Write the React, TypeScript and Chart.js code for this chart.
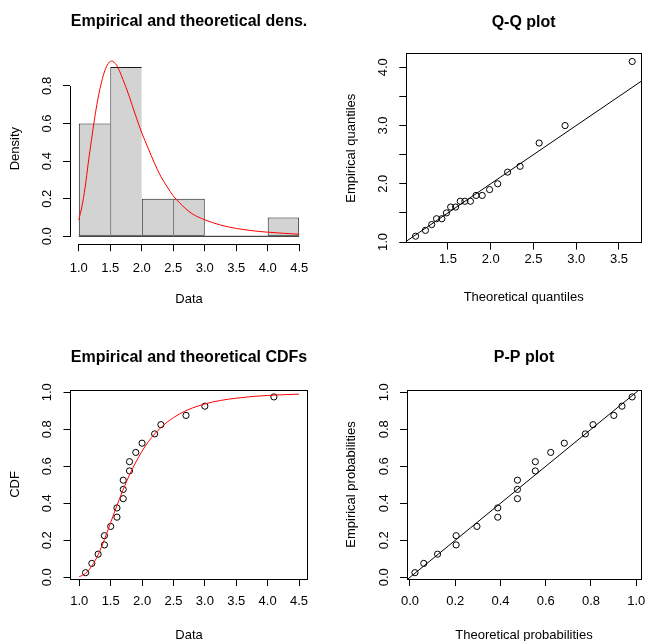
import React, { useEffect, useRef } from 'react';
import { Chart, registerables } from 'chart.js';

Chart.register(...registerables);

// ---------------- data ----------------
const histBreaks = [1.0, 1.5, 2.0, 2.5, 3.0, 3.5, 4.0, 4.5];
const histDensity = [0.6, 0.9, 0.2, 0.2, 0, 0, 0.1];

const sampleData = [1.1, 1.2, 1.3, 1.4, 1.4, 1.5, 1.6, 1.6, 1.7, 1.7, 1.7, 1.8, 1.8, 1.9, 2.0, 2.2, 2.3, 2.7, 3.0, 4.1];
const empiricalProbs = [0.025, 0.075, 0.125, 0.175, 0.225, 0.275, 0.325, 0.375, 0.425, 0.475, 0.525, 0.575, 0.625, 0.675, 0.725, 0.775, 0.825, 0.875, 0.925, 0.975];
const theoreticalQuantiles = [1.122, 1.237, 1.31, 1.367, 1.429, 1.483, 1.532, 1.59, 1.644, 1.698, 1.763, 1.829, 1.901, 1.987, 2.082, 2.198, 2.344, 2.567, 2.87, 3.655];
const theoreticalProbs = [0.022, 0.061, 0.122, 0.204, 0.204, 0.296, 0.388, 0.388, 0.475, 0.475, 0.475, 0.554, 0.554, 0.622, 0.682, 0.775, 0.809, 0.901, 0.937, 0.982];

const densX = [1.0, 1.05, 1.1, 1.15, 1.2, 1.25, 1.3, 1.35, 1.4, 1.45, 1.52, 1.6, 1.7, 1.8, 1.9, 2.0, 2.1, 2.2, 2.3, 2.4, 2.5, 2.6, 2.7, 2.8, 3.0, 3.25, 3.5, 3.75, 4.0, 4.25, 4.5];
const densY = [0.087, 0.16, 0.26, 0.39, 0.51, 0.625, 0.725, 0.805, 0.868, 0.91, 0.932, 0.91, 0.835, 0.745, 0.645, 0.55, 0.47, 0.39, 0.32, 0.265, 0.215, 0.178, 0.146, 0.12, 0.088, 0.06, 0.042, 0.03, 0.022, 0.016, 0.011];

const cdfX = [1.0, 1.05, 1.1, 1.15, 1.2, 1.25, 1.3, 1.35, 1.4, 1.45, 1.5, 1.6, 1.7, 1.8, 1.9, 2.0, 2.1, 2.2, 2.3, 2.4, 2.5, 2.6, 2.7, 2.8, 3.0, 3.25, 3.5, 3.75, 4.0, 4.25, 4.5];
const cdfY = [0.004, 0.01, 0.021, 0.038, 0.061, 0.089, 0.122, 0.161, 0.204, 0.249, 0.296, 0.388, 0.475, 0.554, 0.622, 0.682, 0.733, 0.775, 0.809, 0.839, 0.863, 0.884, 0.901, 0.915, 0.937, 0.956, 0.968, 0.977, 0.983, 0.987, 0.99];

const titles = ['Empirical and theoretical dens.', 'Q-Q plot', 'Empirical and theoretical CDFs', 'P-P plot'];
const xTitles = ['Data', 'Theoretical quantiles', 'Data', 'Theoretical probabilities'];
const yTitles = ['Density', 'Empirical quantiles', 'CDF', 'Empirical probabilities'];

// ---------------- styling ----------------
const FONT = '"Liberation Sans", Arial, Helvetica, sans-serif';
const INK = '#000000';
const RED = '#FF0000';

const rFrame = {
  id: 'rFrame',
  afterDatasetsDraw(chart: any, _args: any, opts: any) {
    const { ctx, chartArea: a, scales } = chart;
    ctx.save();
    ctx.strokeStyle = INK;
    ctx.lineWidth = 1;
    const px = (v: number) => Math.floor(v) + 0.5;
    if (opts.mode === 'box') {
      ctx.strokeRect(px(a.left), px(a.top), Math.floor(a.right) - Math.floor(a.left), Math.floor(a.bottom) - Math.floor(a.top));
    } else if (opts.mode === 'axes') {
      const xs = scales.x, ys = scales.y;
      const xt = xs.ticks, yt = ys.ticks;
      ctx.beginPath();
      ctx.moveTo(Math.round(xs.getPixelForValue(xt[0].value)), px(a.bottom));
      ctx.lineTo(Math.round(xs.getPixelForValue(xt[xt.length - 1].value)) + 1, px(a.bottom));
      ctx.moveTo(px(a.left), Math.round(ys.getPixelForValue(yt[0].value)) + 1);
      ctx.lineTo(px(a.left), Math.round(ys.getPixelForValue(yt[yt.length - 1].value)));
      ctx.stroke();
    }
    ctx.restore();
  },
};

const rTitleCenter = {
  id: 'rTitleCenter',
  afterLayout(chart: any) {
    const tb = chart.titleBlock;
    if (tb) {
      tb.left = chart.chartArea.left;
      tb.right = chart.chartArea.right;
    }
  },
};

type Geo = {
  W: number; H: number;
  area: { l: number; r: number; t: number; b: number };
  titleCenter: number;
  xMin: number; xMax: number; xStep: number; xLabelPad: number; xTitleCenter: number;
  yMin: number; yMax: number; yStep: number; yTitleCenter: number;
  yLabel?: (v: number) => string;
  mode: 'box' | 'axes';
  title: string; xTitle: string; yTitle: string;
};

function makeOptions(g: Geo): any {
  const tickFont = { family: FONT, size: 13, lineHeight: 1.2 };
  const fmt = (v: number) => Number(v).toFixed(1);
  return {
    responsive: false,
    animation: false,
    events: [],
    layout: { padding: { left: 0, top: 0, right: g.W - g.area.r, bottom: 0 } },
    plugins: {
      legend: { display: false },
      tooltip: { enabled: false },
      title: {
        display: true,
        text: g.title,
        color: INK,
        font: { family: FONT, size: 16, weight: 'bold', lineHeight: 1.2 },
        padding: { top: g.titleCenter - 9.6, bottom: g.area.t - (g.titleCenter - 9.6) - 19.2 },
      },
      rFrame: { mode: g.mode },
    },
    scales: {
      x: {
        type: 'linear',
        position: 'bottom',
        min: g.xMin,
        max: g.xMax,
        bounds: 'ticks',
        offset: false,
        afterFit: (s: any) => { s.height = g.H - g.area.b; s.paddingLeft = 0; s.paddingRight = 0; },
        grid: { display: true, offset: false, drawOnChartArea: false, drawTicks: true, tickLength: 7, color: INK, lineWidth: 1 },
        border: { display: false },
        ticks: {
          stepSize: g.xStep, includeBounds: false, autoSkip: false, maxRotation: 0, minRotation: 0,
          padding: g.xLabelPad, color: INK, font: tickFont, callback: (v: any) => fmt(v),
        },
        title: {
          display: true, text: g.xTitle, color: INK, font: tickFont,
          padding: { top: 0, bottom: g.H - g.xTitleCenter - 7.8 },
        },
      },
      y: {
        type: 'linear',
        position: 'left',
        min: g.yMin,
        max: g.yMax,
        bounds: 'ticks',
        afterFit: (s: any) => { s.width = g.area.l; s.paddingTop = 0; s.paddingBottom = 0; },
        grid: { display: true, drawOnChartArea: false, drawTicks: true, tickLength: 7, color: INK, lineWidth: 1 },
        border: { display: false },
        ticks: {
          stepSize: g.yStep, includeBounds: false, autoSkip: false, minRotation: 90, maxRotation: 90,
          crossAlign: 'center', padding: 7, color: INK, font: tickFont,
          callback: (v: any) => (g.yLabel ? g.yLabel(Number(v)) : fmt(v)),
        },
        title: {
          display: true, text: g.yTitle, color: INK, font: tickFont,
          padding: { top: g.yTitleCenter - 7.8, bottom: 0 },
        },
      },
    },
  };
}

const pointStyle = {
  pointRadius: 3.1,
  pointBorderWidth: 1,
  pointBorderColor: INK,
  pointBackgroundColor: 'rgba(0,0,0,0)',
  borderColor: INK,
  showLine: false,
};

const geos: Geo[] = [
  {
    W: 323, H: 320, area: { l: 70, r: 308, t: 53, b: 244.2 }, titleCenter: 21.8,
    xMin: 0.86, xMax: 4.64, xStep: 0.5, xLabelPad: 9.2, xTitleCenter: 299.5,
    yMin: -0.042, yMax: 0.975, yStep: 0.2, yTitleCenter: 15,
    mode: 'axes', title: titles[0], xTitle: xTitles[0], yTitle: yTitles[0],
  },
  {
    W: 323, H: 320, area: { l: 83.3, r: 321.3, t: 53.8, b: 242.6 }, titleCenter: 22.5,
    xMin: 1.0133, xMax: 3.758, xStep: 0.5, xLabelPad: 2.1, xTitleCenter: 297.5,
    yMin: 0.99, yMax: 4.232, yStep: 0.5, yTitleCenter: 28.3,
    yLabel: (v: number) => (Math.abs(v - Math.round(v)) < 1e-6 ? v.toFixed(1) : ''),
    mode: 'box', title: titles[1], xTitle: xTitles[1], yTitle: yTitles[1],
  },
  {
    W: 323, H: 321, area: { l: 70.5, r: 307.5, t: 70, b: 259 }, titleCenter: 37.5,
    xMin: 0.86, xMax: 4.635, xStep: 0.5, xLabelPad: 7.9, xTitleCenter: 315.3,
    yMin: -0.0092, yMax: 1.0124, yStep: 0.2, yTitleCenter: 15,
    mode: 'box', title: titles[2], xTitle: xTitles[2], yTitle: yTitles[2],
  },
  {
    W: 323, H: 321, area: { l: 84, r: 320.5, t: 70, b: 259 }, titleCenter: 37.5,
    xMin: -0.0131, xMax: 1.021, xStep: 0.2, xLabelPad: 7.9, xTitleCenter: 315.8,
    yMin: -0.0092, yMax: 1.0124, yStep: 0.2, yTitleCenter: 28.3,
    mode: 'box', title: titles[3], xTitle: xTitles[3], yTitle: yTitles[3],
  },
];

function densityConfig(): any {
  const g = geos[0];
  const centers = histDensity.map((_, i) => (histBreaks[i] + histBreaks[i + 1]) / 2);
  return {
    type: 'bar',
    data: {
      datasets: [
        {
          type: 'bar',
          data: centers.map((c, i) => ({ x: c, y: histDensity[i] })),
          backgroundColor: '#D3D3D3',
          borderColor: '#1a1a1a',
          borderSkipped: false,
          inflateAmount: 0,
          borderWidth: (ctx: any) => {
            const i = ctx.dataIndex;
            const last = i === histDensity.length - 1 || histDensity[i + 1] === 0;
            return { top: 1, bottom: 1, left: 1, right: last ? 1 : 0 };
          },
          barPercentage: 1,
          categoryPercentage: 1,
          order: 3,
        },
        {
          type: 'line',
          data: [
            { x: histBreaks[0], y: 0 },
            { x: histBreaks[histBreaks.length - 1], y: 0 },
          ],
          borderColor: '#1a1a1a',
          borderWidth: 1,
          pointRadius: 0,
          order: 2,
        },
        {
          type: 'line',
          data: densX.map((x, i) => ({ x, y: densY[i] })),
          borderColor: RED,
          borderWidth: 1,
          pointRadius: 0,
          cubicInterpolationMode: 'monotone',
          order: 1,
        },
      ],
    },
    options: makeOptions(g),
    plugins: [rFrame, rTitleCenter],
  };
}

function qqConfig(): any {
  const g = geos[1];
  return {
    type: 'scatter',
    data: {
      datasets: [
        {
          data: theoreticalQuantiles.map((q, i) => ({ x: q, y: sampleData[i] })),
          ...pointStyle,
        },
        {
          data: [{ x: g.xMin, y: g.xMin }, { x: g.xMax, y: g.xMax }],
          showLine: true, borderColor: INK, borderWidth: 1, pointRadius: 0,
        },
      ],
    },
    options: makeOptions(g),
    plugins: [rFrame, rTitleCenter],
  };
}

function cdfConfig(): any {
  const g = geos[2];
  return {
    type: 'scatter',
    data: {
      datasets: [
        {
          data: cdfX.map((x, i) => ({ x, y: cdfY[i] })),
          showLine: true, borderColor: RED, borderWidth: 1, pointRadius: 0,
          cubicInterpolationMode: 'monotone',
        },
        {
          data: sampleData.map((x, i) => ({ x, y: empiricalProbs[i] })),
          ...pointStyle,
        },
      ],
    },
    options: makeOptions(g),
    plugins: [rFrame, rTitleCenter],
  };
}

function ppConfig(): any {
  const g = geos[3];
  return {
    type: 'scatter',
    data: {
      datasets: [
        {
          data: theoreticalProbs.map((p, i) => ({ x: p, y: empiricalProbs[i] })),
          ...pointStyle,
        },
        {
          data: [{ x: g.xMin, y: g.xMin }, { x: g.xMax, y: g.xMax }],
          showLine: true, borderColor: INK, borderWidth: 1, pointRadius: 0,
        },
      ],
    },
    options: makeOptions(g),
    plugins: [rFrame, rTitleCenter],
  };
}

function Panel({ left, top, width, height, make }: { left: number; top: number; width: number; height: number; make: () => any }) {
  const ref = useRef<HTMLCanvasElement | null>(null);
  useEffect(() => {
    if (!ref.current) return;
    const chart = new Chart(ref.current, make());
    return () => chart.destroy();
  }, [make]);
  return (
    <canvas
      ref={ref}
      width={width}
      height={height}
      style={{ position: 'absolute', left, top, width, height, display: 'block' }}
    />
  );
}

export default function App() {
  useEffect(() => {
    document.body.style.margin = '0';
    document.body.style.overflow = 'hidden';
    document.body.style.background = '#ffffff';
  }, []);
  return (
    <div style={{ position: 'relative', width: 646, height: 641, overflow: 'hidden', background: '#ffffff' }}>
      <Panel left={0} top={0} width={323} height={320} make={densityConfig} />
      <Panel left={323} top={0} width={323} height={320} make={qqConfig} />
      <Panel left={0} top={320} width={323} height={321} make={cdfConfig} />
      <Panel left={323} top={320} width={323} height={321} make={ppConfig} />
    </div>
  );
}
